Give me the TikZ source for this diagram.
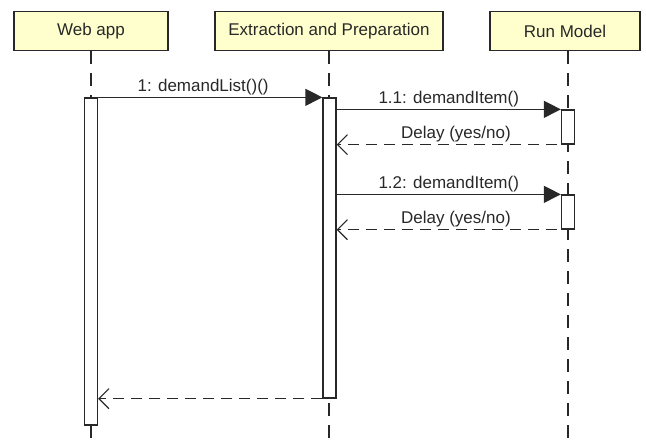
\documentclass[tikz,border=0pt]{standalone}
\usepackage{fontspec}
\setmainfont{Liberation Sans}
\usetikzlibrary{arrows.meta}
\definecolor{lifebox}{RGB}{255,255,206}
\definecolor{ink}{RGB}{40,40,40}
\tikzset{
actor/.style={
	draw=ink, line width=1.8pt, fill=lifebox, minimum height=39pt, inner sep=2pt,
	text=ink, font=\fontsize{17}{19}\selectfont},
activation/.style={
	draw=ink, line width=1.3pt, fill=white, minimum width=13pt, inner sep=0pt},
lifeline/.style={draw=ink, line width=1.3pt, dash pattern=on 13pt off 9pt},
call/.style={draw=ink, line width=1.3pt, -{Triangle[length=17pt,width=17pt]}},
reply/.style={draw=ink, line width=1.3pt, dash pattern=on 11pt off 7pt,
	-{Straight Barb[length=10pt,width=20pt,line width=1.1pt]}},
msg/.style={above, inner sep=1.5pt, text=ink, font=\fontsize{17}{19}\selectfont}
}

\begin{document}
\begin{tikzpicture}[x=1pt, y=-1pt]
	\useasboundingbox (0,0) rectangle (646,442);
	\node[actor, minimum width=154pt] (webapp) at (91,31) {Web app};
	\node[actor, minimum width=228pt] (prep) at (329,31) {Extraction and Preparation};
	\node[actor, minimum width=150pt] (model) at (565,31) {Run Model};
	% lifelines
	\coordinate (bottom) at (0,442);
	\draw[lifeline] (webapp.south) -- (webapp.south |- bottom);
	\draw[lifeline] (prep.south) -- (prep.south |- bottom);
	\draw[lifeline] ([xshift=3pt]model.south) -- ([xshift=3pt]model.south |- bottom);
	% activations
	\node[activation, minimum height=327pt] (webbar) at (91,261.5) {};
	\node[activation, minimum height=300pt] (prepbar) at (329.5,248) {};
	\node[activation, minimum height=34pt] (modelbar1) at (568,127) {};
	\node[activation, minimum height=34pt] (modelbar2) at (568,212) {};
	% messages
	\draw[call] (webbar.north west) -- (prepbar.north west)
		node[msg, midway] {1: demandList()()};
	\draw[call] (prepbar.east |- modelbar1.north) -- (modelbar1.north west)
		node[msg, midway] {1.1: demandItem()};
	\draw[reply] (modelbar1.south east) -- (prepbar.east |- modelbar1.south)
		node[msg, midway] {Delay (yes/no)};
	\draw[call] (prepbar.east |- modelbar2.north) -- (modelbar2.north west)
		node[msg, midway] {1.2: demandItem()};
	\draw[reply] (modelbar2.south east) -- (prepbar.east |- modelbar2.south)
		node[msg, midway] {Delay (yes/no)};
	\draw[reply] (prepbar.south west) -- (webbar.east |- prepbar.south);
\end{tikzpicture}
\end{document}
